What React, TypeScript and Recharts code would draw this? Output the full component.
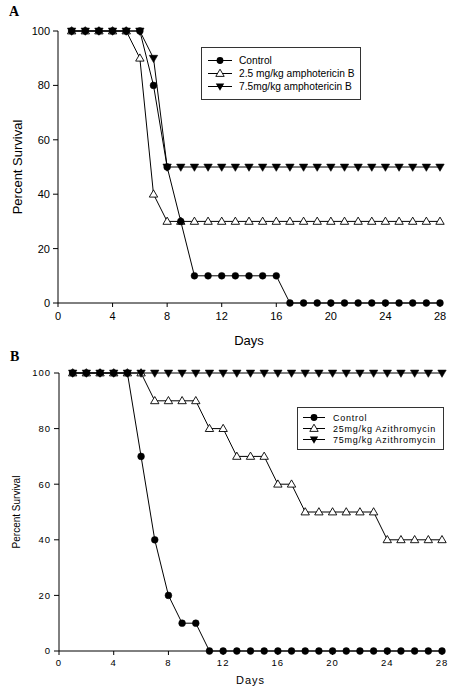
import React from 'react';
import { LineChart, Line, XAxis, YAxis, Legend } from 'recharts';

const days = [1, 2, 3, 4, 5, 6, 7, 8, 9, 10, 11, 12, 13, 14, 15, 16, 17, 18, 19, 20, 21, 22, 23, 24, 25, 26, 27, 28];
const xTicks = [0, 4, 8, 12, 16, 20, 24, 28];
const yTicks = [0, 20, 40, 60, 80, 100];

// Panel A
const controlA = [100, 100, 100, 100, 100, 100, 80, 50, 30, 10, 10, 10, 10, 10, 10, 10, 0, 0, 0, 0, 0, 0, 0, 0, 0, 0, 0, 0];
const ampho25A = [100, 100, 100, 100, 100, 90, 40, 30, 30, 30, 30, 30, 30, 30, 30, 30, 30, 30, 30, 30, 30, 30, 30, 30, 30, 30, 30, 30];
const ampho75A = [100, 100, 100, 100, 100, 100, 90, 50, 50, 50, 50, 50, 50, 50, 50, 50, 50, 50, 50, 50, 50, 50, 50, 50, 50, 50, 50, 50];
const seriesNamesA = ['Control', '2.5 mg/kg amphotericin B', '7.5mg/kg amphotericin B'];

// Panel B
const controlB = [100, 100, 100, 100, 100, 70, 40, 20, 10, 10, 0, 0, 0, 0, 0, 0, 0, 0, 0, 0, 0, 0, 0, 0, 0, 0, 0, 0];
const azi25B = [100, 100, 100, 100, 100, 100, 90, 90, 90, 90, 80, 80, 70, 70, 70, 60, 60, 50, 50, 50, 50, 50, 50, 40, 40, 40, 40, 40];
const azi75B = [100, 100, 100, 100, 100, 100, 100, 100, 100, 100, 100, 100, 100, 100, 100, 100, 100, 100, 100, 100, 100, 100, 100, 100, 100, 100, 100, 100];
const seriesNamesB = ['Control', '25mg/kg Azithromycin', '75mg/kg Azithromycin'];

const dataA = days.map((d, i) => ({ day: d, control: controlA[i], low: ampho25A[i], high: ampho75A[i] }));
const dataB = days.map((d, i) => ({ day: d, control: controlB[i], low: azi25B[i], high: azi75B[i] }));

const FONT = '"Liberation Sans", Arial, sans-serif';

const CircleDot = (p: any) => {
  if (p.cx == null || p.cy == null) return <g key={p.index} />;
  return <circle key={p.index} cx={p.cx} cy={p.cy} r={3.4} fill="#000" stroke="#000" strokeWidth={0.5} />;
};
const TriUpDot = (p: any) => {
  if (p.cx == null || p.cy == null) return <g key={p.index} />;
  const { cx, cy } = p;
  return (
    <polygon key={p.index} points={`${cx},${cy - 4.3} ${cx - 4.2},${cy + 2.9} ${cx + 4.2},${cy + 2.9}`} fill="#fff" stroke="#000" strokeWidth={0.9} />
  );
};
const TriDownDot = (p: any) => {
  if (p.cx == null || p.cy == null) return <g key={p.index} />;
  const { cx, cy } = p;
  return (
    <polygon key={p.index} points={`${cx - 4.2},${cy - 2.9} ${cx + 4.2},${cy - 2.9} ${cx},${cy + 4.3}`} fill="#000" stroke="#000" strokeWidth={0.6} />
  );
};

const markerFor = (kind: string, cx: number, cy: number) => {
  if (kind === 'circle') return <circle cx={cx} cy={cy} r={3.4} fill="#000" />;
  if (kind === 'up')
    return <polygon points={`${cx},${cy - 4.3} ${cx - 4.2},${cy + 2.9} ${cx + 4.2},${cy + 2.9}`} fill="#fff" stroke="#000" strokeWidth={0.9} />;
  return <polygon points={`${cx - 4.2},${cy - 2.9} ${cx + 4.2},${cy - 2.9} ${cx},${cy + 4.3}`} fill="#000" />;
};

const kinds = ['circle', 'up', 'down'];

const makeLegend = (names: string[], opts: { width: number; rowH: number; padY: number; sample: number; gap: number; fontSize: number; letterSpacing: number; padL: number }) => () => (
  <div
    style={{
      width: opts.width,
      boxSizing: 'border-box',
      border: '1px solid #333',
      background: '#fff',
      paddingTop: opts.padY,
      paddingBottom: opts.padY,
      paddingLeft: opts.padL,
      fontFamily: FONT,
      fontSize: opts.fontSize,
      letterSpacing: opts.letterSpacing,
      color: '#000',
    }}
  >
    {names.map((n, i) => (
      <div key={n} style={{ display: 'flex', alignItems: 'center', height: opts.rowH, whiteSpace: 'nowrap' }}>
        <svg width={opts.sample} height={opts.rowH} style={{ flex: 'none' }}>
          <line x1={0} y1={opts.rowH / 2} x2={opts.sample} y2={opts.rowH / 2} stroke="#000" strokeWidth={1} />
          {markerFor(kinds[i], opts.sample / 2, opts.rowH / 2)}
        </svg>
        <span style={{ marginLeft: opts.gap }}>{n}</span>
      </div>
    ))}
  </div>
);

const legendA = makeLegend(seriesNamesA, { width: 160, rowH: 13, padY: 6, sample: 24, gap: 7, fontSize: 10.2, letterSpacing: 0, padL: 6 });
const legendB = makeLegend(seriesNamesB, { width: 147, rowH: 11, padY: 4, sample: 22, gap: 8, fontSize: 9, letterSpacing: 0.75, padL: 5 });

export default function App() {
  return (
    <div style={{ position: 'absolute', left: 0, top: 0, width: 455, height: 691, background: '#fff', overflow: 'hidden' }}>
      <div style={{ position: 'absolute', left: 9, top: 4, fontFamily: '"Liberation Serif", "Times New Roman", serif', fontWeight: 'bold', fontSize: 14 }}>A</div>
      <div style={{ position: 'absolute', left: 10, top: 349, fontFamily: '"Liberation Serif", "Times New Roman", serif', fontWeight: 'bold', fontSize: 14 }}>B</div>

      <div style={{ position: 'absolute', left: 0, top: 0 }}>
        <LineChart width={455} height={350} data={dataA} margin={{ top: 31, right: 15, left: 0, bottom: 2 }} style={{ fontFamily: FONT }}>
          <XAxis
            dataKey="day"
            type="number"
            domain={[0, 28]}
            ticks={xTicks}
            height={45}
            stroke="#000"
            tickSize={4}
            tickMargin={5}
            tick={{ fill: '#000', fontSize: 11 }}
            label={{ value: 'Days', position: 'insideBottom', offset: 3, style: { fill: '#000', fontSize: 13 } }}
          />
          <YAxis
            type="number"
            domain={[0, 100]}
            ticks={yTicks}
            width={58}
            stroke="#000"
            tickSize={5}
            tickMargin={3}
            tick={{ fill: '#000', fontSize: 11 }}
            label={{ value: 'Percent Survival', angle: -90, position: 'insideLeft', offset: 17, style: { textAnchor: 'middle', fill: '#000', fontSize: 13 } }}
          />
          <Legend layout="vertical" align="center" verticalAlign="middle" wrapperStyle={{ left: 201, top: 47, width: 160 }} content={legendA} />
          <Line dataKey="high" name={seriesNamesA[2]} type="linear" stroke="#000" strokeWidth={1} dot={TriDownDot} activeDot={false} isAnimationActive={false} />
          <Line dataKey="low" name={seriesNamesA[1]} type="linear" stroke="#000" strokeWidth={1} dot={TriUpDot} activeDot={false} isAnimationActive={false} />
          <Line dataKey="control" name={seriesNamesA[0]} type="linear" stroke="#000" strokeWidth={1} dot={CircleDot} activeDot={false} isAnimationActive={false} />
        </LineChart>
      </div>

      <div style={{ position: 'absolute', left: 0, top: 345 }}>
        <LineChart width={455} height={346} data={dataB} margin={{ top: 28, right: 13, left: 0, bottom: 2 }} style={{ fontFamily: FONT }}>
          <XAxis
            dataKey="day"
            type="number"
            domain={[0, 28]}
            ticks={xTicks}
            height={38}
            stroke="#000"
            tickSize={4}
            tickMargin={4}
            tick={{ fill: '#000', fontSize: 9.5, letterSpacing: 1 }}
            label={{ value: 'Days', position: 'insideBottom', offset: 5, style: { fill: '#000', fontSize: 11, letterSpacing: 1 } }}
          />
          <YAxis
            type="number"
            domain={[0, 100]}
            ticks={yTicks}
            width={59}
            stroke="#000"
            tickSize={5}
            tickMargin={3}
            tick={{ fill: '#000', fontSize: 9.5, letterSpacing: 1 }}
            label={{ value: 'Percent Survival', angle: -90, position: 'insideLeft', offset: 16, style: { textAnchor: 'middle', fill: '#000', fontSize: 10 } }}
          />
          <Legend layout="vertical" align="center" verticalAlign="middle" wrapperStyle={{ left: 297, top: 62, width: 147 }} content={legendB} />
          <Line dataKey="low" name={seriesNamesB[1]} type="linear" stroke="#000" strokeWidth={1} dot={TriUpDot} activeDot={false} isAnimationActive={false} />
          <Line dataKey="high" name={seriesNamesB[2]} type="linear" stroke="#000" strokeWidth={1} dot={TriDownDot} activeDot={false} isAnimationActive={false} />
          <Line dataKey="control" name={seriesNamesB[0]} type="linear" stroke="#000" strokeWidth={1} dot={CircleDot} activeDot={false} isAnimationActive={false} />
        </LineChart>
      </div>
    </div>
  );
}
